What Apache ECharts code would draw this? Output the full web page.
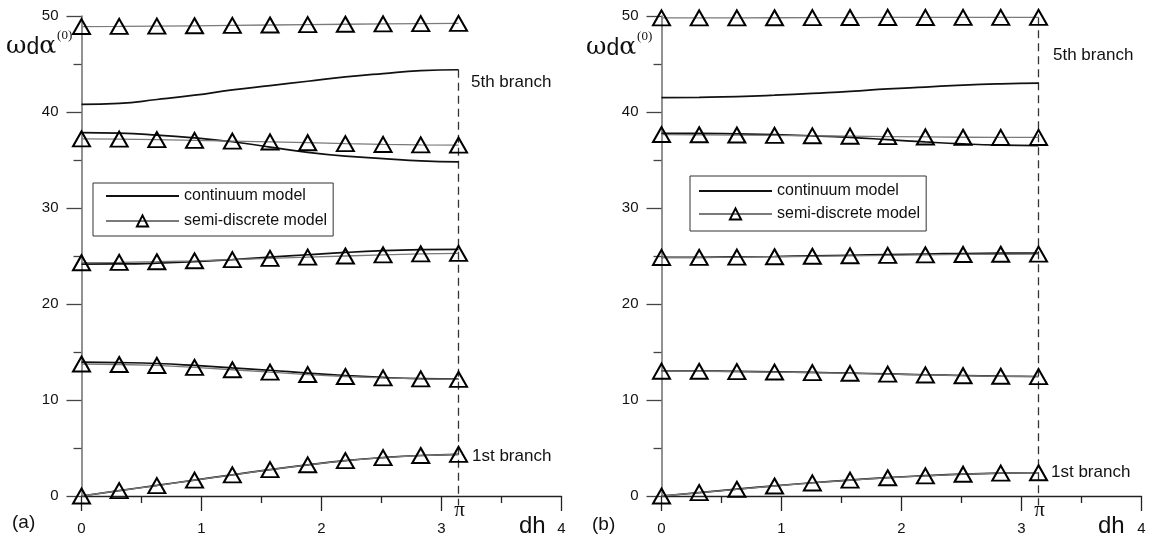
<!DOCTYPE html>
<html><head><meta charset="utf-8">
<script src="https://cdn.jsdelivr.net/npm/echarts@6/dist/echarts.min.js"></script>
<style>html,body{margin:0;padding:0;background:#fff}#c{width:1157px;height:542px}</style>
</head><body><div id="c"></div>
<script>
// sampling points dh = k*pi/10
const xs = [0, 0.314, 0.628, 0.942, 1.257, 1.571, 1.885, 2.199, 2.513, 2.827, 3.142];
const xTickLabels = ['0', '1', '2', '3', '4'];
const yTickLabels = ['0', '10', '20', '30', '40', '50'];
const PI_X = 3.1416;

// panel (a)
const aCont1 = [0, 0.56, 1.1, 1.66, 2.21, 2.75, 3.25, 3.68, 4.0, 4.22, 4.33];
const aSemi1 = [0, 0.56, 1.08, 1.65, 2.2, 2.75, 3.25, 3.68, 4.0, 4.22, 4.33];
const aCont2 = [13.95, 13.9, 13.8, 13.6, 13.35, 13.1, 12.8, 12.55, 12.35, 12.22, 12.18];
const aSemi2 = [13.75, 13.7, 13.6, 13.4, 13.15, 12.9, 12.65, 12.45, 12.3, 12.2, 12.15];
const aCont3 = [24.15, 24.17, 24.25, 24.4, 24.62, 24.88, 25.13, 25.37, 25.55, 25.66, 25.7];
const aSemi3 = [24.3, 24.33, 24.4, 24.5, 24.62, 24.75, 24.88, 25.0, 25.12, 25.22, 25.27];
const aCont4 = [37.85, 37.8, 37.6, 37.3, 36.9, 36.35, 35.8, 35.4, 35.15, 34.9, 34.8];
const aSemi4 = [37.2, 37.18, 37.12, 37.05, 36.97, 36.88, 36.8, 36.7, 36.62, 36.57, 36.55];
const aCont5 = [40.8, 40.9, 41.3, 41.75, 42.3, 42.75, 43.2, 43.65, 44.0, 44.3, 44.4];
const aSemi5 = [48.9, 48.92, 48.95, 48.98, 49.02, 49.06, 49.1, 49.14, 49.18, 49.21, 49.23];
const aPiTop = 44.4;

// panel (b)
const bCont1 = [0, 0.36, 0.72, 1.06, 1.38, 1.66, 1.92, 2.12, 2.28, 2.38, 2.42];
const bSemi1 = [0, 0.35, 0.7, 1.04, 1.36, 1.65, 1.9, 2.1, 2.27, 2.38, 2.42];
const bCont2 = [13.02, 13.01, 12.98, 12.93, 12.87, 12.8, 12.72, 12.63, 12.55, 12.48, 12.45];
const bSemi2 = [13.0, 12.99, 12.96, 12.91, 12.85, 12.78, 12.7, 12.61, 12.53, 12.47, 12.44];
const bCont3 = [24.85, 24.86, 24.9, 24.95, 25.02, 25.08, 25.15, 25.21, 25.26, 25.29, 25.3];
const bSemi3 = [24.85, 24.86, 24.88, 24.92, 24.97, 25.02, 25.07, 25.12, 25.16, 25.18, 25.2];
const bCont4 = [37.78, 37.77, 37.72, 37.65, 37.52, 37.35, 37.12, 36.88, 36.68, 36.55, 36.5];
const bSemi4 = [37.65, 37.63, 37.6, 37.56, 37.52, 37.48, 37.44, 37.4, 37.37, 37.35, 37.35];
const bCont5 = [41.5, 41.53, 41.6, 41.75, 41.95, 42.15, 42.4, 42.6, 42.8, 42.93, 43.0];
const bSemi5 = [49.8, 49.8, 49.81, 49.82, 49.83, 49.84, 49.85, 49.85, 49.86, 49.86, 49.86];
const bPiTop = 49.86;

const CONT = 'continuum model';
const SEMI = 'semi-discrete model';
const SANS = '"Liberation Sans", Arial, sans-serif';
const SERIF = '"Liberation Serif", "Times New Roman", serif';
const GREEK = '"DejaVu Serif", "Liberation Serif", serif';

function pts(ys) { return xs.map((x, i) => [x, ys[i]]); }

function contSeries(ys, gi) {
  return {
    name: CONT, type: 'line', xAxisIndex: gi, yAxisIndex: gi, data: pts(ys),
    smooth: true, showSymbol: false, symbol: 'none', z: 3,
    lineStyle: { color: '#111', width: 1.7 }, itemStyle: { color: '#111' }
  };
}
function semiSeries(ys, gi) {
  return {
    name: SEMI, type: 'line', xAxisIndex: gi, yAxisIndex: gi, data: pts(ys),
    symbol: 'triangle', symbolSize: [17, 15], showSymbol: true, z: 4,
    lineStyle: { color: '#7a7a7a', width: 1.3 },
    itemStyle: { color: 'rgba(255,255,255,0)', borderColor: '#000', borderWidth: 2 }
  };
}
function piLine(top, gi) {
  return {
    type: 'line', xAxisIndex: gi, yAxisIndex: gi, data: [[PI_X, top], [PI_X, -1.0]],
    symbol: 'none', clip: false, silent: true, z: 1,
    lineStyle: { color: '#333', width: 1.3, type: [8, 5] }
  };
}

function xAx(gi) {
  return {
    type: 'value', gridIndex: gi, min: 0, max: 4, interval: 1,
    axisLine: { show: true, lineStyle: { color: '#222', width: 1.3 } },
    axisTick: { show: true, inside: false, length: 15, lineStyle: { color: '#222', width: 1.3 } },
    minorTick: { show: true, splitNumber: 2, length: 7, lineStyle: { color: '#222', width: 1.3 } },
    splitLine: { show: false },
    axisLabel: { margin: 25, fontSize: 15, fontFamily: SANS, color: '#111',
      formatter: v => xTickLabels[Math.round(v)] }
  };
}
function yAx(gi) {
  return {
    type: 'value', gridIndex: gi, min: 0, max: 50, interval: 10,
    axisLine: { show: true, lineStyle: { color: '#777', width: 1.6 } },
    axisTick: { show: true, inside: false, length: 15, lineStyle: { color: '#444', width: 1.3 } },
    minorTick: { show: true, splitNumber: 2, length: 8, lineStyle: { color: '#444', width: 1.3 } },
    splitLine: { show: false },
    axisLabel: { margin: 23, fontSize: 15, fontFamily: SANS, color: '#111',
      formatter: v => yTickLabels[Math.round(v / 10)] }
  };
}

function yName(left, cy) {
  return {
    type: 'text', left: left, top: cy - 16, z: 100,
    style: {
      text: '{w|ω}{d|d}{w|α}{s|(0)}',
      rich: {
        w: { fontFamily: GREEK, fontSize: 25, fill: '#111', verticalAlign: 'bottom', lineHeight: 30 },
        d: { fontFamily: SANS, fontSize: 23, fill: '#111', verticalAlign: 'bottom', lineHeight: 30 },
        s: { fontFamily: SERIF, fontSize: 13, fill: '#111', verticalAlign: 'top', lineHeight: 30, padding: [0, 0, 14, 1] }
      }
    }
  };
}
function txt(str, x, cy, size, font, align) {
  return { type: 'text', x: x, y: cy, z: 100,
    style: { text: str, fontSize: size, fontFamily: font || SANS, fill: '#111',
      textAlign: align || 'left', textVerticalAlign: 'middle' } };
}

const legendCommon = {
  orient: 'vertical',
  data: [{ name: CONT, itemStyle: { opacity: 0 } }, { name: SEMI }],
  itemWidth: 73, itemHeight: 14,
  borderColor: '#333', borderWidth: 1, backgroundColor: '#fff', borderRadius: 0,
  selectedMode: false,
  textStyle: { fontFamily: SANS, fontSize: 16, color: '#111' }
};

const series = [
  contSeries(aCont1, 0), contSeries(aCont2, 0), contSeries(aCont3, 0), contSeries(aCont4, 0), contSeries(aCont5, 0),
  semiSeries(aSemi1, 0), semiSeries(aSemi2, 0), semiSeries(aSemi3, 0), semiSeries(aSemi4, 0), semiSeries(aSemi5, 0),
  piLine(aPiTop, 0),
  contSeries(bCont1, 1), contSeries(bCont2, 1), contSeries(bCont3, 1), contSeries(bCont4, 1), contSeries(bCont5, 1),
  semiSeries(bSemi1, 1), semiSeries(bSemi2, 1), semiSeries(bSemi3, 1), semiSeries(bSemi4, 1), semiSeries(bSemi5, 1),
  piLine(bPiTop, 1)
];

const chart = echarts.init(document.getElementById('c'), null, { renderer: 'canvas' });
chart.setOption({
  backgroundColor: '#fff',
  animation: false,
  grid: [
    { left: 81.5, top: 16, width: 480, height: 480 },
    { left: 661.5, top: 16, width: 480, height: 480 }
  ],
  xAxis: [xAx(0), xAx(1)],
  yAxis: [yAx(0), yAx(1)],
  legend: [
    Object.assign({}, legendCommon, { left: 93, top: 183, itemGap: 9, padding: [5, 6, 7, 12] }),
    Object.assign({}, legendCommon, { left: 690, top: 176, itemGap: 7, padding: [7, 6, 9, 8] })
  ],
  series: series
});

const pa = chart.convertToPixel({ gridIndex: 0 }, [PI_X, 0]);
const pb = chart.convertToPixel({ gridIndex: 1 }, [PI_X, 0]);
chart.setOption({
  graphic: [
    yName(6, 45), yName(586, 46),
    txt('5th branch', 471, 82, 17), txt('5th branch', 1053, 55, 17),
    txt('1st branch', 472, 456, 17), txt('1st branch', 1051, 472, 17),
    txt('π', pa[0] + 1, pa[1] + 14, 21, SERIF, 'center'), txt('π', pb[0] + 1, pb[1] + 14, 21, SERIF, 'center'),
    txt('dh', 519, 526, 24), txt('dh', 1098, 526, 24),
    txt('(a)', 12, 523, 19), txt('(b)', 592, 525, 19)
  ]
});
</script></body></html>
